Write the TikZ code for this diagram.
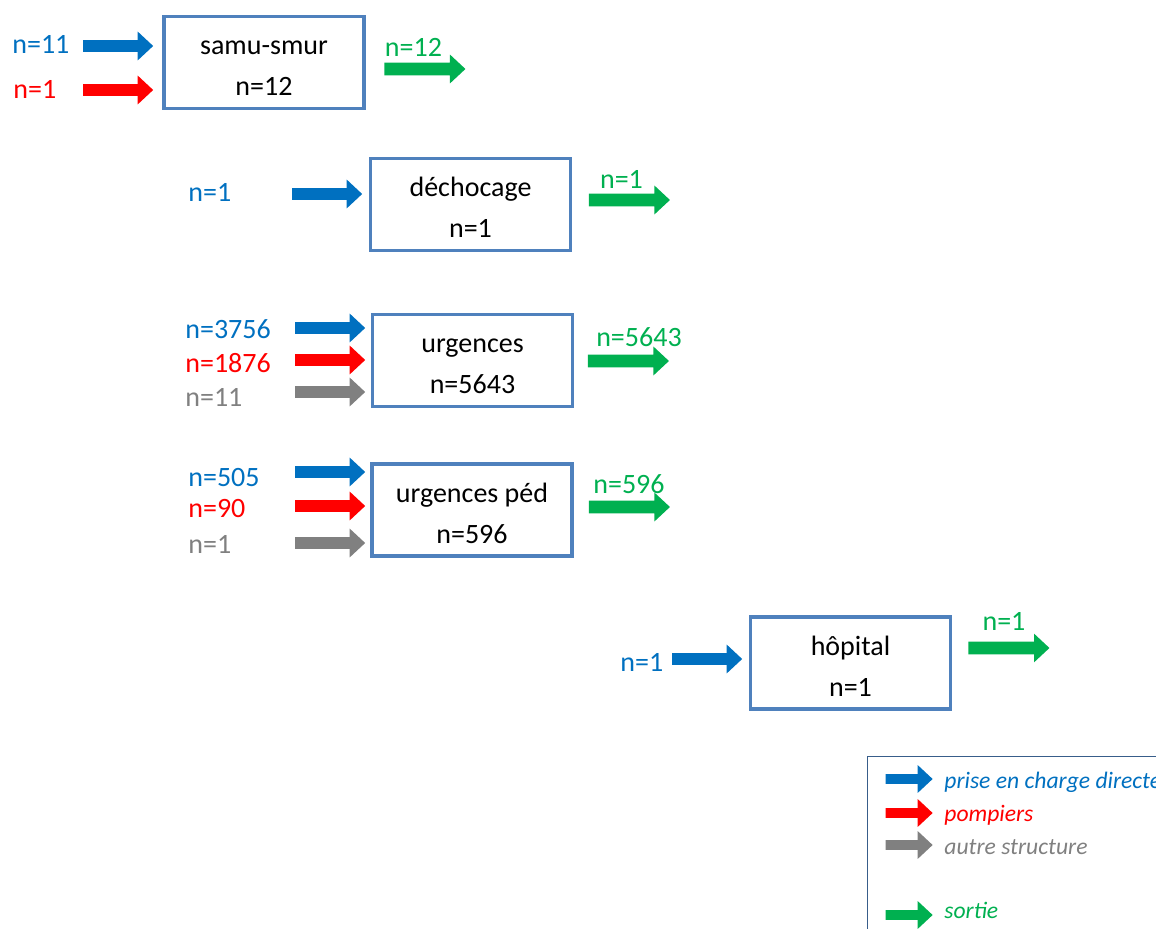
\documentclass[tikz,border=0pt]{standalone}
\usepackage{fontspec}
\setmainfont{Carlito}
\usetikzlibrary{positioning,shapes.arrows}
\definecolor{boxblue}{HTML}{4F81BD}
\definecolor{legblue}{HTML}{385D8A}
\definecolor{cblue}{HTML}{0070C0}
\definecolor{cred}{HTML}{FF0000}
\definecolor{cgray}{HTML}{808080}
\definecolor{cgreen}{HTML}{00B050}
\tikzset{
  etape/.style={rectangle,draw=boxblue,line width=1.75pt,minimum width=100pt,minimum height=45.75pt,align=center,text height=36.3pt,text depth=3pt,font=\fontsize{14}{20.5}\selectfont},
  fleche/.style={single arrow,draw=none,inner xsep=0pt,inner ysep=2.75pt,minimum height=35pt,single arrow head extend=4.25pt,single arrow tip angle=86},
  sortie/.style={fleche,fill=cgreen,minimum height=40.5pt,inner ysep=3pt,single arrow head extend=4pt},
  petite/.style={fleche,minimum height=23.5pt,inner ysep=2.25pt,single arrow head extend=4.5pt},
  lbl/.style={anchor=west,inner sep=0pt,font=\fontsize{14}{16}\selectfont},
  leg/.style={anchor=base west,inner sep=0pt,font=\fontsize{11.8}{13}\selectfont\itshape},
}
\begin{document}
\begin{tikzpicture}[x=0.5pt,y=-0.5pt]
\useasboundingbox (0,0) rectangle (1156,929);
% samu-smur
\node[etape] (S) at (264,62.5) {samu-smur\\n=12};
\node[fleche,fill=cblue] (S1) at (115,46) {};
\node[fleche,fill=cred] (S2) at (115,90) {};
\node[lbl,cblue] (lS1) at (12,45) {n=11};
\node[lbl,cred] (lS2) at (13,89) {n=1};
\node[sortie] (Sout) at (421.5,69) {};
\node[lbl,anchor=center,cgreen] (lSout) at (413.5,47) {n=12};
% dechocage
\node[etape] (D) at (470.5,204.5) {déchocage\\n=1};
\node[fleche,fill=cblue] (D1) at (324,194) {};
\node[lbl,cblue] (lD1) at (188,192) {n=1};
\node[sortie] (Dout) at (626,200) {};
\node[lbl,anchor=center,cgreen] (lDout) at (621.5,179) {n=1};
% urgences
\node[etape] (U) at (472.5,360.5) {urgences\\n=5643};
\node[fleche,fill=cblue] (U1) at (327,328) {};
\node[fleche,fill=cred] (U2) at (327,360) {};
\node[fleche,fill=cgray] (U3) at (327,392) {};
\node[lbl,cblue] (lU1) at (185,329) {n=3756};
\node[lbl,cred] (lU2) at (185,363) {n=1876};
\node[lbl,cgray] (lU3) at (185,397) {n=11};
\node[sortie] (Uout) at (625,361) {};
\node[lbl,anchor=center,cgreen] (lUout) at (639,337) {n=5643};
% urgences ped
\node[etape] (P) at (472,510) {urgences péd\\n=596};
\node[fleche,fill=cblue] (P1) at (327,472) {};
\node[fleche,fill=cred] (P2) at (327,506) {};
\node[fleche,fill=cgray] (P3) at (327,543) {};
\node[lbl,cblue] (lP1) at (188,478) {n=505};
\node[lbl,cred] (lP2) at (188,509) {n=90};
\node[lbl,cgray] (lP3) at (188,544) {n=1};
\node[sortie] (Pout) at (626,507) {};
\node[lbl,anchor=center,cgreen] (lPout) at (629,484) {n=596};
% hopital
\node[etape] (H) at (850.5,663) {hôpital\\n=1};
\node[fleche,fill=cblue] (H1) at (704,659) {};
\node[lbl,cblue] (lH1) at (620,662) {n=1};
\node[sortie] (Hout) at (1005.5,648) {};
\node[lbl,anchor=center,cgreen] (lHout) at (1004,621) {n=1};
% legende
\draw[legblue,line width=0.5pt] (867,756) rectangle (1180,950);
\node[petite,fill=cblue] (g1) at (906.5,779) {};
\node[petite,fill=cred] (g2) at (906.5,813) {};
\node[petite,fill=cgray] (g3) at (906.5,845) {};
\node[petite,fill=cgreen] (g4) at (906.5,915) {};
\node[leg,cblue] (t1) at (944,788) {prise en charge directe};
\node[leg,cred] (t2) at (944,821.5) {pompiers};
\node[leg,cgray] (t3) at (944,854) {autre structure};
\node[leg,cgreen] (t4) at (944,918) {sortie};
\end{tikzpicture}
\end{document}
